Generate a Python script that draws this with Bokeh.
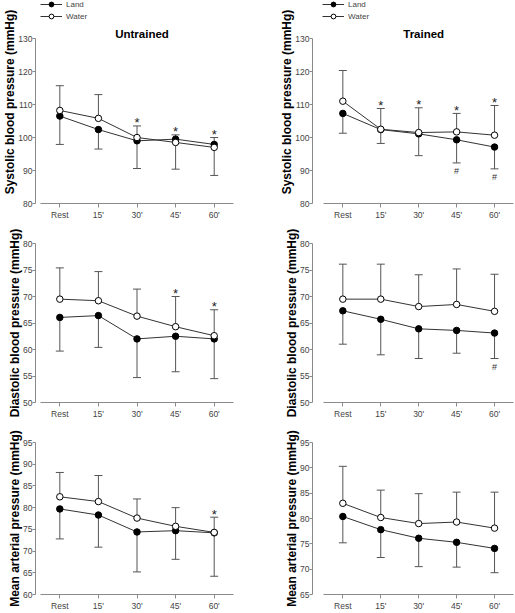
from bokeh.plotting import figure
from bokeh.layouts import gridplot
from bokeh.models import (ColumnDataSource, Range1d, FixedTicker, Legend, LegendItem, Label)
from bokeh.core.properties import value
from bokeh.embed import file_html
from bokeh.resources import INLINE

FONT = "Liberation Sans"

times = ["Rest", "15'", "30'", "45'", "60'"]

# Systolic blood pressure (mmHg)
sbp_untr_land = [106.5, 102.4, 99.0, 99.5, 97.9]
sbp_untr_land_sd = [8.6, 5.9, 8.4, 9.1, 9.4]
sbp_untr_water = [108.2, 105.8, 100.0, 98.5, 97.0]
sbp_untr_water_sd = [7.5, 7.2, 3.5, 2.3, 3.0]
sbp_untr_star = [2, 3, 4]
sbp_untr_hash = []

sbp_tr_land = [107.3, 102.4, 101.1, 99.3, 97.1]
sbp_tr_land_sd = [6.0, 4.2, 6.6, 7.0, 6.6]
sbp_tr_water = [111.0, 102.5, 101.5, 101.7, 100.7]
sbp_tr_water_sd = [9.3, 6.3, 7.5, 5.6, 9.0]
sbp_tr_star = [1, 2, 3, 4]
sbp_tr_hash = [3, 4]

# Diastolic blood pressure (mmHg)
dbp_untr_land = [66.05, 66.4, 62.0, 62.5, 62.0]
dbp_untr_land_sd = [6.35, 6.0, 7.3, 6.7, 7.5]
dbp_untr_water = [69.5, 69.2, 66.3, 64.3, 62.6]
dbp_untr_water_sd = [5.9, 5.5, 5.1, 5.7, 4.9]
dbp_untr_star = [3, 4]
dbp_untr_hash = []

dbp_tr_land = [67.3, 65.7, 63.9, 63.6, 63.1]
dbp_tr_land_sd = [6.3, 6.7, 5.6, 4.3, 4.8]
dbp_tr_water = [69.5, 69.5, 68.1, 68.5, 67.2]
dbp_tr_water_sd = [6.6, 6.6, 6.0, 6.7, 7.0]
dbp_tr_star = []
dbp_tr_hash = [4]

# Mean arterial pressure (mmHg)
map_untr_land = [79.7, 78.3, 74.4, 74.7, 74.2]
map_untr_land_sd = [6.9, 7.4, 9.2, 6.6, 10.0]
map_untr_water = [82.5, 81.4, 77.6, 75.7, 74.3]
map_untr_water_sd = [5.6, 6.0, 4.4, 4.3, 3.5]
map_untr_star = [4]
map_untr_hash = []

map_tr_land = [80.4, 77.8, 76.1, 75.3, 74.1]
map_tr_land_sd = [5.2, 5.5, 5.6, 4.9, 4.8]
map_tr_water = [83.0, 80.2, 79.0, 79.3, 78.1]
map_tr_water_sd = [7.3, 5.4, 5.9, 5.9, 7.1]
map_tr_star = []
map_tr_hash = []

sbp_ticks = [80, 90, 100, 110, 120, 130]
dbp_ticks = [50, 55, 60, 65, 70, 75, 80]
map_untr_ticks = [60, 65, 70, 75, 80, 85, 90, 95]
map_tr_ticks = [65, 70, 75, 80, 85, 90, 95]

AXIS_C = "#8a8a8a"
LINE_C = "#333333"
BAR_C = "#555555"


def make_panel(land, land_sd, water, water_sd, stars, hashes, ticks, ylabel,
               width, height, borders, x_start=-0.8, title=None, title_dx=0,
               legend=False, axis_px=None):
    top, right, bottom, left = borders
    frame_h = height - top - bottom
    y0, y1 = ticks[0], ticks[-1]
    y_end = y1
    if axis_px is not None:
        # extend the frame above the top tick so title/legend sit inside it
        y_end = y0 + (y1 - y0) * frame_h / axis_px
    p = figure(width=width, height=height, output_backend="svg",
               toolbar_location=None,
               x_range=Range1d(x_start, 4.5), y_range=Range1d(y0, y_end),
               min_border_top=top, min_border_right=right,
               min_border_bottom=bottom, min_border_left=left)
    p.outline_line_color = None
    p.grid.visible = False
    p.background_fill_color = "white"
    p.border_fill_color = "white"

    xs = list(range(len(times)))
    w_up = [w + s for w, s in zip(water, water_sd)]
    l_dn = [l - s for l, s in zip(land, land_sd)]

    # error bars
    p.segment(x0=xs, y0=water, x1=xs, y1=w_up, line_color=BAR_C, line_width=1)
    p.segment(x0=xs, y0=land, x1=xs, y1=l_dn, line_color=BAR_C, line_width=1)
    p.scatter(x=xs, y=w_up, marker="dash", size=8, line_color=BAR_C, line_width=1)
    p.scatter(x=xs, y=l_dn, marker="dash", size=8, line_color=BAR_C, line_width=1)

    l_line = p.line(xs, land, line_color=LINE_C, line_width=1)
    w_line = p.line(xs, water, line_color=LINE_C, line_width=1)
    l_pts = p.scatter(xs, land, marker="circle", size=6.5, fill_color="black",
                      line_color="black", line_width=1)
    w_pts = p.scatter(xs, water, marker="circle", size=6.5, fill_color="white",
                      line_color="black", line_width=1)

    if stars:
        src = ColumnDataSource(dict(x=stars, y=[max(w_up[i], water[i], land[i]) for i in stars],
                                    t=["*"] * len(stars)))
        p.text(x="x", y="y", text="t", source=src, text_font=value(FONT),
               text_font_size="13px", text_align="center", text_baseline="middle",
               y_offset=-3, text_color="#222222")
    if hashes:
        src = ColumnDataSource(dict(x=hashes, y=[l_dn[i] for i in hashes],
                                    t=["#"] * len(hashes)))
        p.text(x="x", y="y", text="t", source=src, text_font=value(FONT),
               text_font_size="9px", text_align="center", text_baseline="top",
               y_offset=3, text_color="#333333")

    # axes
    p.xaxis.ticker = FixedTicker(ticks=xs)
    p.xaxis.major_label_overrides = {i: t for i, t in enumerate(times)}
    p.xaxis.bounds = (-0.5, 4.5)
    p.yaxis.ticker = FixedTicker(ticks=ticks)
    p.yaxis.bounds = (y0, y1)
    for ax in (p.xaxis[0], p.yaxis[0]):
        ax.axis_line_color = AXIS_C
        ax.major_tick_line_color = AXIS_C
        ax.minor_tick_line_color = None
        ax.major_tick_in = 0
        ax.major_tick_out = 4
        ax.major_label_text_font = FONT
        ax.major_label_text_font_size = "8.5px"
        ax.major_label_text_color = "#444444"
        ax.major_label_standoff = 2
    p.yaxis.major_tick_out = 3
    p.yaxis.major_label_standoff = 0
    p.yaxis.axis_label = ylabel
    p.yaxis.axis_label_text_font = FONT
    p.yaxis.axis_label_text_font_style = "bold"
    p.yaxis.axis_label_text_font_size = "12px"
    p.yaxis.axis_label_text_color = "black"
    p.yaxis.axis_label_standoff = -2

    if title is not None:
        p.add_layout(Label(x=2, y=y1, x_offset=title_dx, y_offset=5, text=title,
                           text_align="center", text_baseline="middle",
                           text_font=FONT, text_font_style="bold",
                           text_font_size="11.5px", text_color="black"))
    if legend:
        lg = Legend(items=[LegendItem(label="Land", renderers=[l_line, l_pts]),
                           LegendItem(label="Water", renderers=[w_line, w_pts])],
                    location=(5 if x_start > -0.7 else 10, frame_h - 22),
                    label_text_font=FONT, label_text_font_size="8px",
                    label_text_color="#444444", glyph_width=22, glyph_height=12,
                    label_height=12, spacing=0, padding=0, margin=0,
                    label_standoff=4, border_line_color=None,
                    background_fill_alpha=0)
        p.add_layout(lg)
    return p


LW, RW = 274, 241
H1, H2, H3 = 222, 199, 192
B1 = (0, 41, 19, 30)
B1R = (0, 2, 19, 38)
B2 = (21, 41, 17, 30)
B2R = (21, 2, 17, 38)
B3 = (21, 41, 17, 30)
B3R = (21, 2, 17, 38)
XL = -0.63

p1 = make_panel(sbp_untr_land, sbp_untr_land_sd, sbp_untr_water, sbp_untr_water_sd,
                sbp_untr_star, sbp_untr_hash, sbp_ticks, "Systolic blood pressure (mmHg)",
                LW, H1, B1, x_start=XL, title="Untrained", title_dx=5, legend=True,
                axis_px=165)
p2 = make_panel(sbp_tr_land, sbp_tr_land_sd, sbp_tr_water, sbp_tr_water_sd,
                sbp_tr_star, sbp_tr_hash, sbp_ticks, "Systolic blood pressure (mmHg)",
                RW, H1, B1R, title="Trained", title_dx=5, legend=True, axis_px=165)
p3 = make_panel(dbp_untr_land, dbp_untr_land_sd, dbp_untr_water, dbp_untr_water_sd,
                dbp_untr_star, dbp_untr_hash, dbp_ticks, "Diastolic blood pressure (mmHg)",
                LW, H2, B2, x_start=XL)
p4 = make_panel(dbp_tr_land, dbp_tr_land_sd, dbp_tr_water, dbp_tr_water_sd,
                dbp_tr_star, dbp_tr_hash, dbp_ticks, "Diastolic blood pressure (mmHg)",
                RW, H2, B2R)
p5 = make_panel(map_untr_land, map_untr_land_sd, map_untr_water, map_untr_water_sd,
                map_untr_star, map_untr_hash, map_untr_ticks, "Mean arterial pressure (mmHg)",
                LW, H3, B3, x_start=XL)
p6 = make_panel(map_tr_land, map_tr_land_sd, map_tr_water, map_tr_water_sd,
                map_tr_star, map_tr_hash, map_tr_ticks, "Mean arterial pressure (mmHg)",
                RW, H3, B3R)

grid = gridplot([[p1, p2], [p3, p4], [p5, p6]], toolbar_location=None)

open("out.html", "w").write(file_html(grid, INLINE))
